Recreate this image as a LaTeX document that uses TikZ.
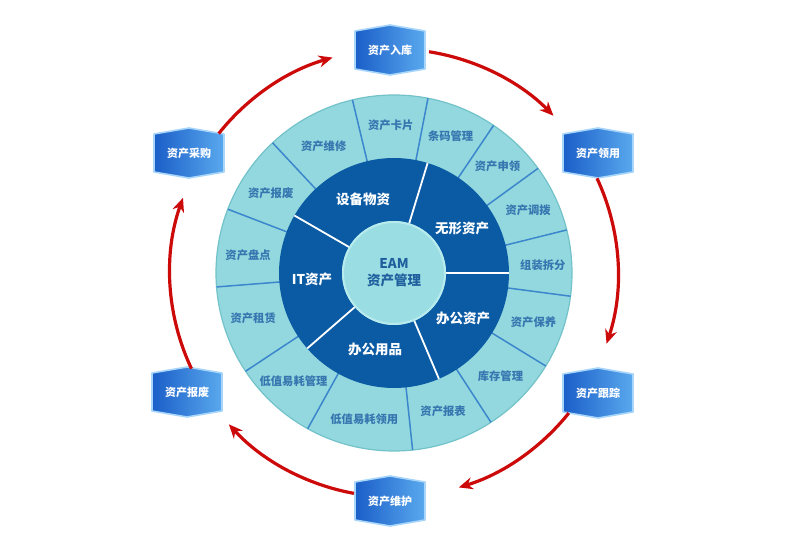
\documentclass[tikz,border=0pt]{standalone}
\usepackage{fontspec}
\setmainfont{Noto Sans CJK SC}
\usetikzlibrary{arrows.meta}
\definecolor{ringfill}{HTML}{93D8DE}
\definecolor{ringedge}{HTML}{72C2C9}
\definecolor{divline}{HTML}{3B86CC}
\definecolor{outertext}{HTML}{3676B0}
\definecolor{darkring}{HTML}{0A5AA4}
\definecolor{corefill}{HTML}{9ADDE2}
\definecolor{coreedge}{HTML}{B8EBEE}
\definecolor{coretext}{HTML}{1F5F9E}
\definecolor{hexdark}{HTML}{1A5EC8}
\definecolor{hexlight}{HTML}{5AA9EE}
\definecolor{hexrim}{HTML}{A8D5FA}
\definecolor{arrowred}{HTML}{CC0A0A}
\tikzset{
  outerlabel/.style={text=outertext, font=\fontsize{11.3}{13}\selectfont\bfseries, inner sep=0pt},
  innerlabel/.style={text=white, font=\fontsize{13.5}{15}\selectfont\bfseries, inner sep=0pt},
  corelabel/.style={text=coretext, font=\fontsize{13.5}{17}\selectfont\bfseries, align=center, inner sep=0pt},
  hexlabel/.style={text=white, font=\fontsize{11}{13}\selectfont\bfseries, inner sep=0pt},
  hexshade/.style={left color=hexdark, right color=hexlight, draw=hexrim, line width=1.6pt, line join=round},
  divider/.style={draw=divline, line width=1.5pt},
  sectorline/.style={draw=white, line width=1.8pt},
  arr/.style={draw=arrowred, line width=3.2pt, -{Stealth[length=14pt,width=12pt]}},
}
\newcommand{\hexbox}[4]{%
  \shade[hexshade] (#2-35,#3+19) -- (#2,#3+25) -- (#2+35,#3+19) -- (#2+35,#3-19) -- (#2,#3-25) -- (#2-35,#3-19) -- cycle;
  \node[hexlabel] (#1) at (#2,#3) {#4};
}
\begin{document}
\begin{tikzpicture}[x=1pt,y=1pt]
\useasboundingbox (0,0) rectangle (803,546);
\coordinate (C) at (394,273);
% outer ring
\fill[ringfill] (C) circle[radius=178];
\draw[ringedge, line width=1.2pt] (C) circle[radius=178];
\foreach \a in {103.5,79,56,36,14,-7.5,-31.5,-57,-84,-119,-146.5,-175.5,159,133}
  \draw[divider] (C) ++(\a:114) -- ++(\a:64);
% dark ring
\fill[darkring] (C) circle[radius=115];
\foreach \a in {73,0,-67,221,150}
  \draw[sectorline] (C) ++(\a:50) -- ++(\a:65);
% core
\fill[corefill] (C) circle[radius=52];
\draw[coreedge, line width=2pt] (C) circle[radius=51];
\node[corelabel] (core) at (C) {EAM\\资产管理};
% inner labels
\node[innerlabel] (shebei) at (363,347) {设备物资};
\node[innerlabel] (wuxing) at (462,318) {无形资产};
\node[innerlabel] (bangongzc) at (463,228) {办公资产};
\node[innerlabel] (bangongyp) at (375,197) {办公用品};
\node[innerlabel] (itzc) at (312,267) {IT资产};
% outer labels
\node[outerlabel] (o1) at ([shift={(91.25:148)}]C) {资产卡片};
\node[outerlabel] (o2) at ([shift={(67.5:148)}]C) {条码管理};
\node[outerlabel] (o3) at ([shift={(46:149)}]C) {资产申领};
\node[outerlabel] (o4) at ([shift={(25:148)}]C) {资产调拨};
\node[outerlabel] (o5) at ([shift={(3:149)}]C) {组装拆分};
\node[outerlabel] (o6) at ([shift={(-19.5:148)}]C) {资产保养};
\node[outerlabel] (o7) at ([shift={(-44:148)}]C) {库存管理};
\node[outerlabel] (o8) at ([shift={(-70.5:147)}]C) {资产报表};
\node[outerlabel] (o9) at ([shift={(-101.5:149)}]C) {低值易耗领用};
\node[outerlabel] (o10) at ([shift={(-132.75:148)}]C) {低值易耗管理};
\node[outerlabel] (o11) at ([shift={(-162:148)}]C) {资产租赁};
\node[outerlabel] (o12) at ([shift={(173:147)}]C) {资产盘点};
\node[outerlabel] (o13) at ([shift={(147:147)}]C) {资产报废};
\node[outerlabel] (o14) at ([shift={(119:145)}]C) {资产维修};
% hexagons
\hexbox{ruku}{390}{496}{资产入库}
\hexbox{caigou}{189}{393}{资产采购}
\hexbox{lingyong}{598}{393}{资产领用}
\hexbox{baofei}{187}{154}{资产报废}
\hexbox{genzong}{598}{153}{资产跟踪}
\hexbox{weihu}{390}{45}{资产维护}
% cycle arrows
\draw[arr] (C) ++(141.5:224) arc[start angle=141.5, end angle=105.9, radius=224];
\draw[arr] (C) ++(81:224) arc[start angle=81, end angle=44.6, radius=224];
\draw[arr] (C) ++(25:224) arc[start angle=25, end angle=-18.4, radius=224];
\draw[arr] (C) ++(-38.7:224) arc[start angle=-38.7, end angle=-73.2, radius=224];
\draw[arr] (C) ++(-100.3:224) arc[start angle=-100.3, end angle=-137.5, radius=224];
\draw[arr] (C) ++(205.3:224) arc[start angle=205.3, end angle=160.4, radius=224];
\end{tikzpicture}
\end{document}
